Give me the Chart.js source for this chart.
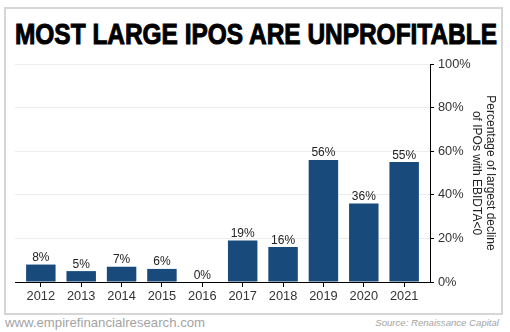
<!DOCTYPE html>
<html>
<head>
<meta charset="utf-8">
<script src="https://cdn.jsdelivr.net/npm/chart.js@4/dist/chart.umd.min.js"></script>
<style>
  html, body { margin: 0; padding: 0; background: #fff; }
  #wrap { position: relative; width: 510px; height: 332px; overflow: hidden; font-family: "Liberation Sans", Arial, sans-serif; }
  #box { position: absolute; left: 4px; top: 7px; width: 495px; height: 304px; border: 2px solid #d6d6d6; }
  #title { position: absolute; left: 15px; top: 17px; white-space: nowrap; font-size: 29px; font-weight: bold; color: #000;
           -webkit-text-stroke: 1px #000; transform-origin: 0 0; line-height: 34px; letter-spacing: 0px; }
  #site { position: absolute; left: 5px; top: 315px; font-size: 13.2px; color: #a3a3a3; white-space: nowrap; }
  #src { position: absolute; right: 11px; top: 317px; font-size: 9.6px; font-style: italic; color: #a3a3a3; white-space: nowrap; }
  #cw { position: absolute; left: 0; top: 0; width: 510px; height: 332px; }
</style>
</head>
<body>
<div id="wrap">
  <div id="box"></div>
  <div id="title">MOST LARGE IPOS ARE UNPROFITABLE</div>
  <div id="site">www.empirefinancialresearch.com</div>
  <div id="src">Source: Renaissance Capital</div>
  <div id="cw"><canvas id="c"></canvas></div>
</div>
<script>
const categories = ['2012', '2013', '2014', '2015', '2016', '2017', '2018', '2019', '2020', '2021'];
const values = [8, 5, 7, 6, 0, 19, 16, 56, 36, 55];
const yTickValues = [0, 20, 40, 60, 80, 100];
const axisTitle = ['Percentage of largest decline', 'of IPOs with EBIDTA<0'];

// fit the title to its width
const t = document.getElementById('title');
const natural = t.getBoundingClientRect().width;
t.style.transform = 'scaleX(' + (482 / natural) + ')';

const barLabels = {
  id: 'barLabels',
  afterDatasetsDraw(chart) {
    const ctx = chart.ctx;
    const meta = chart.getDatasetMeta(0);
    ctx.save();
    ctx.font = '12px "Liberation Sans", Arial, sans-serif';
    ctx.fillStyle = '#222';
    ctx.textAlign = 'center';
    ctx.textBaseline = 'alphabetic';
    meta.data.forEach((bar, i) => {
      ctx.fillText(values[i] + '%', bar.x, bar.y - 3.5);
    });
    ctx.restore();
  }
};

new Chart(document.getElementById('c'), {
  type: 'bar',
  data: {
    datasets: [{
      data: values.map((v, i) => ({ x: i, y: v })),
      backgroundColor: '#184a7c',
      borderWidth: 0,
      barPercentage: 0.73,
      categoryPercentage: 1
    }]
  },
  options: {
    responsive: true,
    maintainAspectRatio: false,
    animation: false,
    layout: { padding: { left: 15, top: 64, right: 0, bottom: 26 } },
    plugins: { legend: { display: false }, tooltip: { enabled: false } },
    scales: {
      x: {
        type: 'linear',
        offset: false,
        min: -0.64,
        max: 9.64,
        afterBuildTicks: (scale) => { scale.ticks = categories.map((_, i) => ({ value: i })); },
        afterFit: (scale) => { scale.height = 24; scale.paddingLeft = 0; scale.paddingRight = 0; },
        ticks: {
          autoSkip: false,
          maxRotation: 0,
          padding: 2,
          color: '#333',
          font: { size: 12.8, family: '"Liberation Sans", Arial, sans-serif' },
          callback: (v) => categories[v]
        },
        grid: { offset: false, drawOnChartArea: false, drawTicks: true, tickLength: 5, tickColor: '#000' },
        border: { display: true, color: '#000', width: 1 }
      },
      y: {
        position: 'right',
        min: 0,
        max: 100,
        afterBuildTicks: (scale) => { scale.ticks = yTickValues.map(v => ({ value: v })); },
        afterFit: (scale) => { scale.width = 80; },
        ticks: {
          padding: 4,
          color: '#333',
          font: { size: 12.8, family: '"Liberation Sans", Arial, sans-serif' },
          callback: (v) => v + '%'
        },
        grid: { color: '#ececec', tickLength: 4, tickColor: '#000' },
        border: { display: true, color: '#000', width: 1 },
        title: {
          display: true,
          text: axisTitle,
          color: '#222',
          font: { size: 12, family: '"Liberation Sans", Arial, sans-serif', lineHeight: 1.1 },
          padding: { top: 13.4, bottom: 0 }
        }
      }
    }
  },
  plugins: [barLabels]
});
</script>
</body>
</html>
